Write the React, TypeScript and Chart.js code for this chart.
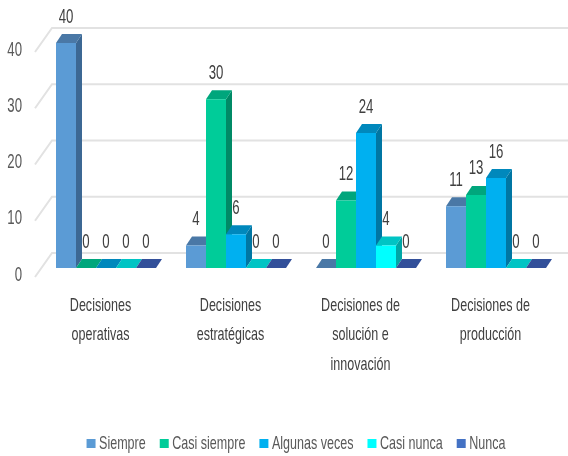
import { useEffect, useRef } from "react";
import { Chart, registerables } from "chart.js";

Chart.register(...registerables);

const categories = [
  ["Decisiones", "operativas"],
  ["Decisiones", "estratégicas"],
  ["Decisiones de", "solución e", "innovación"],
  ["Decisiones de", "producción"],
];
const seriesNames = ["Siempre", "Casi siempre", "Algunas veces", "Casi nunca", "Nunca"];
const siempre = [40, 4, 0, 11];
const casiSiempre = [0, 30, 12, 13];
const algunasVeces = [0, 6, 24, 16];
const casiNunca = [0, 0, 4, 0];
const nunca = [0, 0, 0, 0];
const seriesValues = [siempre, casiSiempre, algunasVeces, casiNunca, nunca];
const frontColors = ["#5B9BD5", "#00CC99", "#00B0F0", "#00FFFF", "#4472C4"];
const topColors = ["#4A78A6", "#00A67C", "#0088BC", "#00C4C4", "#33509A"];
const sideColors = ["#3C6894", "#008A66", "#0076A3", "#00A6A6", "#2C4585"];
const yTicks = [0, 10, 20, 30, 40];

const DX = 6;
const DY = 9;
const FONT = '"Liberation Sans", sans-serif';
const SX = 0.66; // the reference's type is horizontally condensed
const LEGEND_GAP_TRIM = 6;

const condenseText = (ctx: any) => {
  const fill = ctx.fillText.bind(ctx);
  const measure = ctx.measureText.bind(ctx);
  ctx.fillText = (t: string, x: number, y: number) => {
    ctx.save();
    ctx.translate(seriesNames.includes(t) ? x - LEGEND_GAP_TRIM : x, y);
    ctx.scale(SX, 1);
    fill(t, 0, 0);
    ctx.restore();
  };
  ctx.measureText = (t: string) => {
    const m = measure(t);
    return { width: m.width * SX - (seriesNames.includes(t) ? LEGEND_GAP_TRIM : 0) };
  };
};

const poly = (ctx: CanvasRenderingContext2D, pts: number[][], color: string) => {
  ctx.fillStyle = color;
  ctx.beginPath();
  pts.forEach(([x, y], i) => (i ? ctx.lineTo(x, y) : ctx.moveTo(x, y)));
  ctx.closePath();
  ctx.fill();
};

const depthPlugin = {
  id: "depth",
  afterLayout(chart: any) {
    chart.legend.left += 31;
  },
  beforeDatasetDraw() {
    return false;
  },
  beforeDatasetsDraw(chart: any) {
    const { ctx, scales } = chart;
    ctx.save();
    ctx.strokeStyle = "#E2E2E2";
    ctx.lineWidth = 2;
    yTicks.forEach((v) => {
      const y = scales.y.getPixelForValue(v);
      ctx.beginPath();
      ctx.moveTo(35, y + 9);
      ctx.lineTo(52, y - 15);
      ctx.lineTo(568, y - 15);
      ctx.stroke();
    });
    ctx.fillStyle = "#404040";
    ctx.font = `20px ${FONT}`;
    ctx.textAlign = "center";
    ctx.textBaseline = "middle";
    seriesValues.forEach((vals, d) => {
      const meta = chart.getDatasetMeta(d);
      vals.forEach((v, i) => {
        const bar = meta.data[i];
        ctx.fillText(String(v), bar.x, bar.y - 26);
      });
    });
    ctx.restore();
  },
  afterDatasetsDraw(chart: any) {
    const { ctx } = chart;
    ctx.save();
    seriesValues.forEach((_, d) => {
      chart.getDatasetMeta(d).data.forEach((bar: any) => {
        const l = bar.x - bar.width / 2;
        const r = bar.x + bar.width / 2;
        const t = bar.y;
        const b = bar.base;
        if (b > t) {
          poly(ctx, [[r, t], [r + DX, t - DY], [r + DX, b - DY], [r, b]], sideColors[d]);
        }
        poly(ctx, [[l, t], [l + DX, t - DY], [r + DX, t - DY], [r, t]], topColors[d]);
        bar.draw(ctx);
      });
    });
    ctx.restore();
  },
};

export default function App() {
  const ref = useRef<HTMLCanvasElement>(null);
  useEffect(() => {
    condenseText(ref.current!.getContext("2d"));
    const chart = new Chart(ref.current!, {
      type: "bar",
      data: {
        labels: categories,
        datasets: seriesNames.map((name, i) => ({
          label: name,
          data: seriesValues[i],
          backgroundColor: frontColors[i],
          borderWidth: 0,
          categoryPercentage: 100 / 130,
          barPercentage: 1,
        })),
      },
      options: {
        responsive: false,
        animation: false,
        layout: { padding: { left: 0, right: 7, top: 43, bottom: -7 } },
        scales: {
          x: {
            grid: { display: false, drawTicks: false },
            border: { display: false },
            afterFit: (s: any) => { s.height = 152; },
            ticks: {
              color: "#404040",
              font: { family: FONT, size: 19, lineHeight: 1.55 },
              padding: 23,
              maxRotation: 0,
              autoSkip: false,
              labelOffset: -5.5,
            },
          },
          y: {
            min: 0,
            max: 40,
            afterFit: (s: any) => { s.width = 41; },
            grid: { display: false, drawTicks: false },
            border: { display: false },
            ticks: {
              stepSize: 10,
              color: "#595959",
              font: { family: FONT, size: 20 },
              padding: 19,
              labelOffset: 7,
            },
          },
        },
        plugins: {
          tooltip: { enabled: false },
          legend: {
            position: "bottom",
            labels: {
              boxWidth: 9,
              boxHeight: 9,
              padding: 14,
              color: "#595959",
              font: { family: FONT, size: 19 },
            },
          },
        },
      },
      plugins: [depthPlugin],
    } as any);
    return () => chart.destroy();
  }, []);
  return (
    <div style={{ position: "absolute", left: 0, top: 0, width: 568, height: 456, overflow: "hidden" }}>
      <canvas ref={ref} width={568} height={456} style={{ display: "block", filter: "blur(0.6px)" }} />
    </div>
  );
}
